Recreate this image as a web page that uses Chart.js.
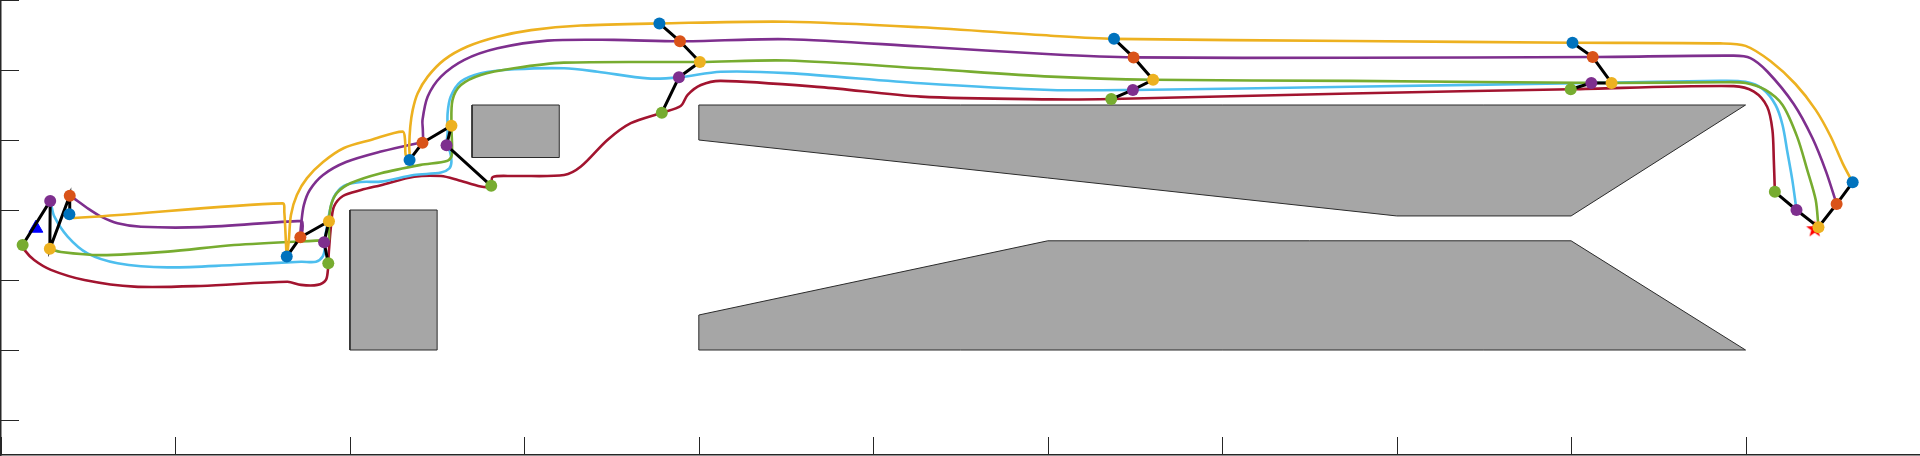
<!DOCTYPE html>
<html>
<head>
<meta charset="utf-8">
<script src="https://cdn.jsdelivr.net/npm/chart.js@4/dist/chart.umd.min.js"></script>
<style>
  body { margin: 0; background: #fff; }
  #wrap { width: 1920px; height: 456px; }
</style>
</head>
<body>
<div id="wrap"><canvas id="myChart"></canvas></div>
<script>
// axis ranges / ticks
const xRange = [0, 55];
const yRange = [-1, 12];
const xStep = 5;
const yStep = 2;

// obstacles (polygon corners)
const obstacleA = [[10, 2], [12.5, 2], [12.5, 6], [10, 6]];
const obstacleB = [[13.5, 7.5], [16, 7.5], [16, 9], [13.5, 9]];
const obstacleC = [[20, 9], [50, 9], [45, 5.83], [40, 5.83], [20, 8]];
const obstacleD = [[20, 2], [20, 3], [30, 5.12], [45, 5.12], [50, 2]];

// start and goal
const startPt = [1.0, 5.48];
const goalPt = [51.98, 5.45];

// robot positions at each formation
const blueWp = [[1.96, 5.88], [8.19, 4.67], [11.71, 7.43], [18.87, 11.33], [31.90, 10.89], [45.04, 10.78], [53.07, 6.79]];
const orangeWp = [[1.97, 6.41], [8.58, 5.22], [12.08, 7.92], [19.46, 10.82], [32.46, 10.36], [45.62, 10.37], [52.61, 6.17]];
const yellowWp = [[1.40, 4.89], [9.40, 5.68], [12.91, 8.41], [20.03, 10.23], [33.02, 9.72], [46.16, 9.63], [52.09, 5.51]];
const purpleWp = [[1.41, 6.26], [9.26, 5.08], [12.77, 7.85], [19.43, 9.79], [32.44, 9.43], [45.58, 9.63], [51.46, 6.00]];
const greenWp = [[0.62, 5.00], [9.38, 4.48], [14.05, 6.69], [18.94, 8.78], [31.82, 9.17], [44.99, 9.45], [50.84, 6.52]];

// trajectories
const yellowPath = [[1.96, 5.88], [2.09, 5.77], [8.07, 6.19], [8.12, 5.94], [8.17, 5.00], [8.19, 4.67],
  [8.25, 5.14], [8.31, 5.86], [8.48, 6.43], [8.77, 6.91], [9.23, 7.37], [9.83, 7.77], [10.60, 8.00],
  [11.51, 8.24], [11.58, 8.00], [11.60, 7.57], [11.71, 7.43], [11.70, 7.81], [11.73, 8.38], [11.80, 8.86],
  [11.94, 9.33], [12.23, 9.81], [12.70, 10.29], [13.37, 10.67], [14.23, 10.95], [15.19, 11.14],
  [16.62, 11.27], [18.87, 11.33], [22.54, 11.38], [26.36, 11.22], [30.09, 10.98], [31.90, 10.89],
  [38.68, 10.83], [45.04, 10.78], [49.28, 10.76], [50.00, 10.69], [50.72, 10.25], [51.43, 9.60],
  [52.01, 8.86], [52.44, 8.10], [52.78, 7.34], [53.07, 6.79]];
const purplePath = [[1.97, 6.41], [2.15, 6.29], [2.48, 6.05], [2.87, 5.81], [3.34, 5.62], [4.01, 5.52],
  [5.73, 5.51], [8.60, 5.69], [8.64, 5.63], [8.64, 5.43], [8.58, 5.22], [8.61, 5.66], [8.68, 6.14],
  [8.85, 6.57], [9.23, 7.00], [9.89, 7.37], [10.89, 7.67], [11.94, 7.91], [12.08, 7.92], [12.09, 8.29],
  [12.08, 8.57], [12.23, 9.24], [12.61, 9.81], [13.28, 10.29], [14.23, 10.62], [15.66, 10.84],
  [17.57, 10.86], [19.46, 10.82], [22.54, 10.88], [26.36, 10.67], [30.09, 10.45], [32.46, 10.36],
  [38.68, 10.35], [45.62, 10.37], [49.66, 10.41], [50.14, 10.34], [50.63, 9.95], [51.38, 9.03],
  [51.92, 8.05], [52.31, 7.09], [52.61, 6.17]];
const greenPath = [[1.40, 4.89], [1.72, 4.80], [2.87, 4.71], [4.78, 4.81], [6.68, 5.00], [9.36, 5.14],
  [9.40, 5.14], [9.40, 5.68], [9.46, 6.14], [9.63, 6.49], [10.03, 6.77], [10.89, 7.05], [12.03, 7.29],
  [12.80, 7.41], [12.92, 7.57], [12.91, 8.41], [12.94, 9.14], [13.18, 9.57], [13.75, 9.86], [14.70, 10.05],
  [16.13, 10.21], [20.03, 10.23], [22.54, 10.27], [26.36, 10.05], [30.09, 9.81], [33.02, 9.72],
  [38.68, 9.69], [46.16, 9.63], [49.28, 9.65], [50.00, 9.63], [50.57, 9.43], [51.06, 9.00],
  [51.48, 8.09], [51.77, 7.14], [52.01, 6.29], [52.09, 5.51]];
const cyanPath = [[1.41, 6.26], [1.43, 6.19], [1.53, 5.81], [1.91, 5.24], [2.48, 4.76], [3.34, 4.48],
  [4.78, 4.36], [6.68, 4.43], [8.60, 4.52], [9.03, 4.52], [9.22, 4.67], [9.28, 4.91], [9.26, 5.08],
  [9.31, 5.34], [9.41, 5.91], [9.54, 6.37], [9.83, 6.69], [10.32, 6.80], [10.89, 6.81], [11.83, 7.00],
  [12.61, 7.07], [12.85, 7.19], [12.91, 7.38], [12.87, 7.66], [12.77, 7.85], [12.80, 8.20], [12.80, 8.76],
  [12.89, 9.24], [13.18, 9.67], [13.75, 9.91], [14.71, 10.02], [16.14, 10.05], [17.10, 9.95],
  [18.53, 9.76], [19.43, 9.79], [20.63, 9.95], [22.54, 9.91], [26.36, 9.62], [30.09, 9.43],
  [32.44, 9.43], [38.68, 9.52], [45.58, 9.63], [49.28, 9.69], [50.00, 9.66], [50.49, 9.46],
  [50.86, 9.00], [51.06, 8.43], [51.19, 7.71], [51.34, 6.86], [51.46, 6.00]];
const redPath = [[0.62, 5.00], [0.67, 4.86], [0.95, 4.57], [1.43, 4.29], [2.39, 4.00], [3.82, 3.81],
  [5.73, 3.83], [8.21, 3.95], [8.60, 3.86], [9.07, 3.86], [9.31, 4.00], [9.37, 4.29], [9.38, 4.48],
  [9.40, 4.86], [9.46, 5.57], [9.54, 6.09], [9.80, 6.40], [10.32, 6.57], [10.89, 6.71], [11.84, 6.95],
  [12.61, 6.97], [13.09, 6.86], [13.75, 6.67], [14.05, 6.69], [14.09, 6.94], [14.71, 6.97], [16.14, 7.00],
  [16.62, 7.24], [17.38, 8.00], [18.05, 8.48], [18.94, 8.78], [19.48, 8.97], [19.68, 9.29], [20.06, 9.57],
  [20.63, 9.69], [23.50, 9.51], [26.36, 9.24], [30.09, 9.16], [31.82, 9.17], [38.68, 9.33],
  [44.99, 9.45], [49.66, 9.54], [50.24, 9.38], [50.62, 8.95], [50.77, 8.29], [50.81, 7.43], [50.84, 6.52]];

const toPts = arr => arr.map(p => ({ x: p[0], y: p[1] }));

// filled pentagram for the goal
function makeStar(r, color) {
  const c = document.createElement("canvas");
  c.width = c.height = 2 * r + 2;
  const g = c.getContext("2d");
  g.beginPath();
  for (let i = 0; i < 10; i++) {
    const a = -Math.PI / 2 + (i * Math.PI) / 5;
    const rr = i % 2 ? r * 0.4 : r;
    g.lineTo(r + 1 + rr * Math.cos(a), r + 1 + rr * Math.sin(a));
  }
  g.closePath();
  g.fillStyle = color;
  g.fill();
  return c;
}

const datasets = [];

// obstacles
[obstacleA, obstacleB, obstacleC, obstacleD].forEach(ob => {
  datasets.push({
    data: toPts(ob.concat([ob[0]])),
    showLine: true,
    fill: "shape",
    backgroundColor: "#a6a6a6",
    borderColor: "#2b2b2b",
    borderWidth: 1,
    pointRadius: 0,
    tension: 0,
    order: 10,
  });
});

// start / goal
datasets.push({
  data: toPts([startPt]),
  pointStyle: "triangle",
  pointRadius: 8,
  backgroundColor: "#0000ff",
  borderColor: "#0000ff",
  borderWidth: 1,
  order: 9,
});
datasets.push({
  data: toPts([goalPt]),
  pointStyle: makeStar(9, "#ff0000"),
  order: 9,
});

// trajectories
const pathColors = ["#EDB120", "#7E2F8E", "#77AC30", "#4DBEEE", "#A2142F"];
[yellowPath, purplePath, greenPath, cyanPath, redPath].forEach((p, i) => {
  datasets.push({
    data: toPts(p),
    showLine: true,
    borderColor: pathColors[i],
    borderWidth: 2.6,
    pointRadius: 0,
    tension: 0.3,
    order: 5,
  });
});

// formation links
for (let i = 0; i < blueWp.length; i++) {
  datasets.push({
    data: toPts([blueWp[i], orangeWp[i], yellowWp[i], purpleWp[i], greenWp[i]]),
    showLine: true,
    borderColor: "#000000",
    borderWidth: 3,
    pointRadius: 0,
    tension: 0,
    order: 2,
  });
}

// robot markers
const markerColors = ["#0072BD", "#D95319", "#EDB120", "#7E2F8E", "#77AC30"];
[blueWp, orangeWp, yellowWp, purpleWp, greenWp].forEach((w, i) => {
  datasets.push({
    data: toPts(w),
    pointRadius: 6,
    pointStyle: "circle",
    backgroundColor: markerColors[i],
    borderColor: markerColors[i],
    borderWidth: 0,
    order: 0,
  });
});

// MATLAB style ticks pointing inward
const innerTicks = {
  id: "innerTicks",
  afterDatasetsDraw(chart) {
    const { ctx, chartArea } = chart;
    const xs = chart.scales.x;
    const ys = chart.scales.y;
    ctx.save();
    ctx.strokeStyle = "#262626";
    ctx.lineWidth = 1;
    xs.ticks.forEach(t => {
      if (t.value % xStep !== 0) return;
      const px = Math.round(xs.getPixelForValue(t.value)) + 0.5;
      ctx.beginPath();
      ctx.moveTo(px, chartArea.bottom);
      ctx.lineTo(px, chartArea.bottom - 18);
      ctx.stroke();
    });
    ys.ticks.forEach(t => {
      if (t.value % yStep !== 0) return;
      const py = Math.round(ys.getPixelForValue(t.value)) + 0.5;
      ctx.beginPath();
      ctx.moveTo(chartArea.left, py);
      ctx.lineTo(chartArea.left + 18, py);
      ctx.stroke();
    });
    ctx.restore();
  },
};

const config = {
  type: "scatter",
  data: { datasets: datasets },
  options: {
    responsive: true,
    maintainAspectRatio: false,
    animation: false,
    events: [],
    layout: { autoPadding: false, padding: { left: 1, bottom: 1, top: 0, right: 0 } },
    scales: {
      x: {
        min: xRange[0],
        max: xRange[1],
        ticks: { display: false, stepSize: xStep, padding: 0 },
        grid: { display: false, drawTicks: false },
        border: { display: true, color: "#262626", width: 1.5 },
      },
      y: {
        min: yRange[0],
        max: yRange[1],
        ticks: { display: false, stepSize: yStep, padding: 0 },
        grid: { display: false, drawTicks: false },
        border: { display: true, color: "#262626", width: 1.5 },
      },
    },
    plugins: {
      legend: { display: false },
      tooltip: { enabled: false },
    },
  },
  plugins: [innerTicks],
};

const myChart = new Chart(document.getElementById("myChart"), config);
</script>
</body>
</html>
